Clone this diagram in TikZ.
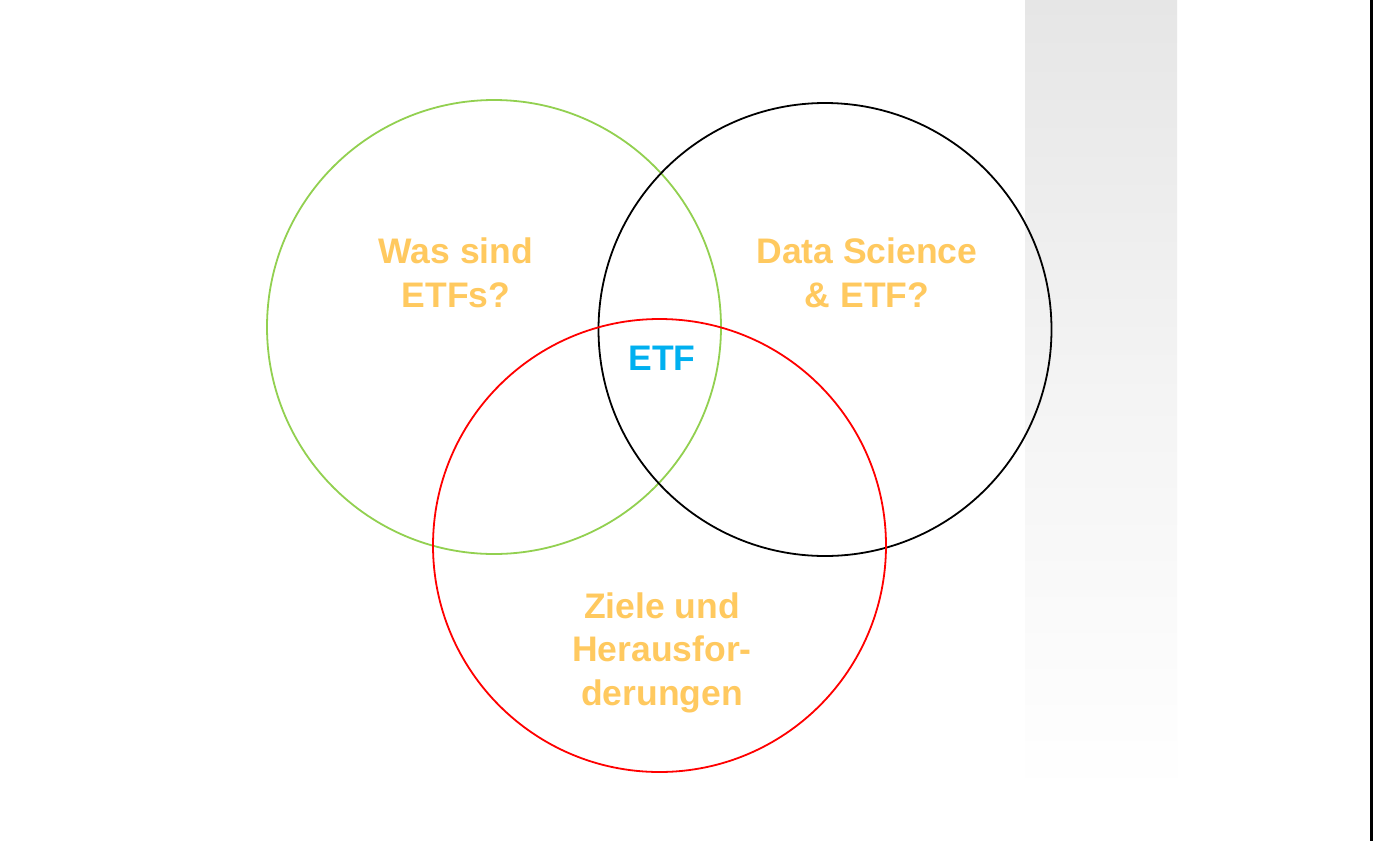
\documentclass[tikz,border=0pt]{standalone}
\usepackage{fontspec}
\setmainfont{Liberation Sans}
\definecolor{lbl}{RGB}{255,201,95}
\definecolor{etfblue}{RGB}{0,176,240}
\definecolor{cgreen}{RGB}{146,208,80}
\definecolor{cred}{RGB}{255,0,0}
\definecolor{topgray}{RGB}{230,230,230}
\begin{document}
\begin{tikzpicture}[x=1pt,y=-1pt,
  ring/.style={line width=1.8pt},
  lab/.style={text=lbl,font=\fontsize{35.5}{43.5}\selectfont\bfseries,align=center,inner sep=0pt},
]
\useasboundingbox (0,0) rectangle (1373,841);
\fill[white] (0,0) rectangle (1373,841);
\shade[top color=topgray,bottom color=white,middle color={rgb,255:red,244;green,244;blue,244}] (1025,0) rectangle (1177,795);
\fill[black] (1370,0) rectangle (1373,841);
\node[draw=cgreen,ring,circle,minimum size=454pt,inner sep=0pt] (green) at (494,327) {};
\node[draw=black,ring,circle,minimum size=453pt,inner sep=0pt] (blackc) at (825,329.5) {};
\node[draw=cred,ring,circle,minimum size=453pt,inner sep=0pt] (red) at (659.5,545.5) {};
\node[lab,anchor=base] (t1) at (456,307) {Was sind\\ETFs?};
\node[lab,anchor=base] (t2) at (867,307) {Data Science\\\& ETF?};
\node[lab,anchor=base] (t3) at (662,705) {Ziele und\\Herausfor-\\derungen};
\node[text=etfblue,font=\fontsize{35.5}{43}\selectfont\bfseries,anchor=base,inner sep=0pt] (etf) at (662,370) {ETF};
\end{tikzpicture}
\end{document}
